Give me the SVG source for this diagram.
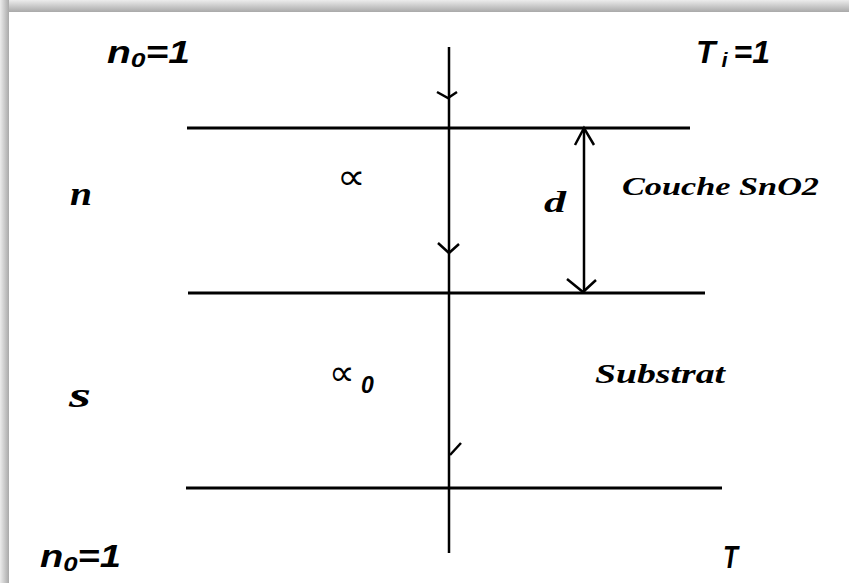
<svg xmlns="http://www.w3.org/2000/svg" width="849" height="583" viewBox="0 0 849 583">
<defs>
<linearGradient id="gt" x1="0" y1="0" x2="0" y2="1"><stop offset="0" stop-color="#ececec"/><stop offset="1" stop-color="#a9a9a9"/></linearGradient>
<linearGradient id="gl" x1="0" y1="0" x2="1" y2="0"><stop offset="0" stop-color="#ececec"/><stop offset="1" stop-color="#a9a9a9"/></linearGradient>
<style>
.ln{stroke:#000;fill:none;stroke-width:3}
.ar{stroke:#000;fill:none;stroke-width:2.5}
</style>
</defs>
<rect width="849" height="583" fill="#fff"/>
<rect x="0" y="0" width="849" height="12" fill="url(#gt)"/>
<rect x="0" y="0" width="9" height="583" fill="url(#gl)"/>
<g id="layers">
<line class="ln" x1="187" y1="128" x2="690" y2="128" stroke-width="2.5"/>
<line class="ln" x1="188" y1="293" x2="705" y2="293"/>
<line class="ln" x1="186" y1="488" x2="722" y2="488"/>
</g>
<g id="connectors">
<line class="ar" x1="449" y1="47" x2="449" y2="553"/>
<polyline class="ar" points="437,92 448,98 457,92"/>
<polyline class="ar" points="438,243 449,253 459,244"/>
<polyline class="ar" points="450,455 461,443"/>
<line class="ar" x1="584" y1="127" x2="584" y2="292"/>
<polyline class="ar" points="575,145 584,128 594,145"/>
<polyline class="ar" points="567,279 583,292 596,280"/>
</g>
<g id="labels" fill="#000">
<g font-family="Liberation Sans, Arial, sans-serif" font-weight="bold" font-style="italic">
<text x="107" y="63" font-size="31" textLength="83" lengthAdjust="spacingAndGlyphs">n<tspan font-size="21" dy="4">0</tspan><tspan dy="-4">=1</tspan></text>
<text x="696" y="63" font-size="31" textLength="74" lengthAdjust="spacingAndGlyphs">T<tspan font-size="21" dy="4"> i </tspan><tspan dy="-4">=1</tspan></text>
<text x="40" y="567" font-size="31" textLength="81" lengthAdjust="spacingAndGlyphs">n<tspan font-size="21" dy="4">0</tspan><tspan dy="-4">=1</tspan></text>
<text x="723" y="568" font-size="32" textLength="15" lengthAdjust="spacingAndGlyphs">T</text>
</g>
<g font-family="Liberation Serif, Times New Roman, serif" font-weight="bold" font-style="italic">
<text x="70" y="205" font-size="34" textLength="22" lengthAdjust="spacingAndGlyphs">n</text>
<text x="69" y="407" font-size="36" textLength="22" lengthAdjust="spacingAndGlyphs">s</text>
<text x="544" y="212" font-size="29" textLength="22" lengthAdjust="spacingAndGlyphs">d</text>
<text x="622" y="195" font-size="26" textLength="197" lengthAdjust="spacingAndGlyphs">Couche SnO2</text>
<text x="595" y="383" font-size="27" textLength="130" lengthAdjust="spacingAndGlyphs">Substrat</text>
</g>
<text transform="translate(337,189) scale(1,0.9)" font-family="DejaVu Sans, sans-serif" font-size="40">∝</text>
<text transform="translate(329,385) scale(0.9,0.9)" font-family="DejaVu Sans, sans-serif" font-size="40">∝</text>
<text x="361" y="393" font-family="Liberation Sans, Arial, sans-serif" font-weight="bold" font-style="italic" font-size="23">0</text>
</g>
</svg>
